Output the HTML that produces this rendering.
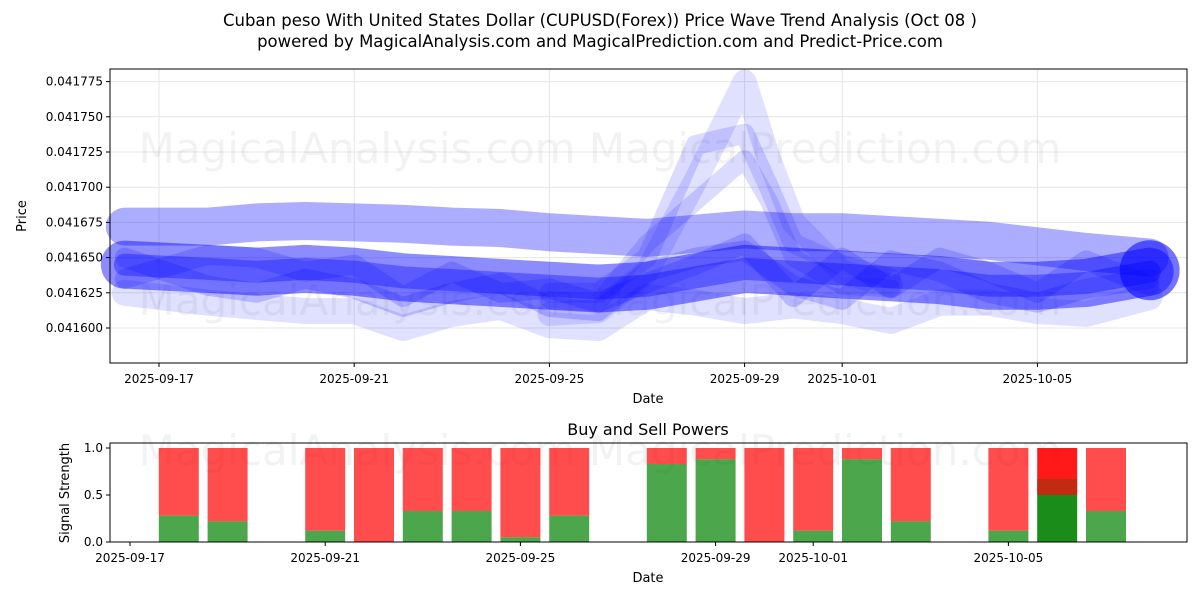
<!DOCTYPE html>
<html><head><meta charset="utf-8"><style>
body{margin:0;background:#fff;font-family:"Liberation Sans","DejaVu Sans",sans-serif}
svg text{font-family:"DejaVu Sans","Liberation Sans",sans-serif}
</style></head><body>
<svg id="c" width="1200" height="600" viewBox="0 0 1200 600"></svg>
<script>
// ---- data ----
const bandDays = [-0.7,1,2,3,4,5,6,7,8,9,10,11,12,13,14,15,16,17,18,19,20.3];
const bandUpper = [0.041672,0.041672,0.041675,0.041676,0.041675,0.041674,0.041672,0.041671,0.041668,0.041666,0.041664,0.041667,0.041670,0.041668,0.041668,0.041666,0.041664,0.041662,0.041658,0.041654,0.041650];
const bandCenter = [0.041645,0.041642,0.041640,0.041642,0.041640,0.041636,0.041634,0.041632,0.041630,0.041628,0.041630,0.041636,0.041642,0.041640,0.041638,0.041636,0.041634,0.041630,0.041630,0.041632,0.041640];
const bandLower = [0.041625,0.041618,0.041615,0.041612,0.041612,0.041600,0.041610,0.041615,0.041602,0.041600,0.041622,0.041618,0.041612,0.041616,0.041612,0.041605,0.041618,0.041618,0.041612,0.041610,0.041622];
const waveA = [0.041650,0.041630,0.041625,0.041635,0.041628,0.041615,0.041625,0.041632,0.041615,0.041612,0.041640,0.041650,0.041655,0.041630,0.041620,0.041648,0.041640,0.041625,0.041618,0.041628,0.041635];
const waveB = [0.041635,0.041652,0.041650,0.041640,0.041645,0.041622,0.041640,0.041625,0.041628,0.041618,0.041632,0.041645,0.041660,0.041622,0.041650,0.041628,0.041650,0.041640,0.041625,0.041648,0.041630];
const spikeDays = [8,9,10,11,12,12.5,13,14,15];
const spikeA = [0.041610,0.041612,0.041640,0.041705,0.041775,0.041720,0.041675,0.041640,0.041630];
const spikeB = [0.041625,0.041625,0.041650,0.041730,0.041738,0.041700,0.041660,0.041645,0.041635];
const spikeC = [0.041620,0.041618,0.041660,0.041690,0.041720,0.041690,0.041650,0.041630,0.041628];
const barDays = [1,2,4,5,6,7,8,9,11,12,13,14,15,16,18,19,20];
const buyVals = [0.28,0.22,0.12,0,0.33,0.33,0.05,0.28,0.83,0.88,0,0.12,0.88,0.22,0.12,0.5,0.33];
const priceTicks = [0.041600,0.041625,0.041650,0.041675,0.041700,0.041725,0.041750,0.041775];
const dateTickDays = [0,4,8,12,14,18];
const dateTickLabels = ["2025-09-17","2025-09-21","2025-09-25","2025-09-29","2025-10-01","2025-10-05"];
const sigTicks = [0,0.5,1];

// ---- scales ----
const svg = document.getElementById('c');
const NS = 'http://www.w3.org/2000/svg';
const X1 = d => 159 + d*48.8;
const Y1 = v => 328 - (v-0.041600)/0.000025*35.2;
const X2 = d => 130 + d*48.8;
const Y2 = v => 542 - v*94;
function el(tag, attrs, parent){const e=document.createElementNS(NS,tag);for(const k in attrs)e.setAttribute(k,attrs[k]);(parent||svg).appendChild(e);return e;}
function txt(s, attrs, parent){const e=el('text',attrs,parent);e.textContent=s;return e;}

let t=txt('Cuban peso With United States Dollar (CUPUSD(Forex)) Price Wave Trend Analysis (Oct 08 )',{x:600,y:26,'text-anchor':'middle','font-size':16.5});


t=txt('powered by MagicalAnalysis.com and MagicalPrediction.com and Predict-Price.com',{x:600,y:47,'text-anchor':'middle','font-size':16.5});



// ---- top panel ----
const g1 = el('g',{});


priceTicks.forEach(v=>{
  const l=el('line',{x1:110,x2:1187,y1:Y1(v),y2:Y1(v),stroke:'#e6e6e6'},g1);
  
  
  el('line',{x1:106,x2:110,y1:Y1(v),y2:Y1(v),stroke:'#000'},g1);
  const tl=txt(v.toFixed(6),{x:103,y:Y1(v)+4,'text-anchor':'end','font-size':12},g1);
  
  
});
dateTickDays.forEach((d,i)=>{
  el('line',{x1:X1(d),x2:X1(d),y1:69,y2:363,stroke:'#e6e6e6'},g1);
  el('line',{x1:X1(d),x2:X1(d),y1:363,y2:367,stroke:'#000'},g1);
  const tl=txt(dateTickLabels[i],{x:X1(d),y:383,'text-anchor':'middle','font-size':12},g1);
  
  
});
let wm=txt('MagicalAnalysis.com    MagicalPrediction.com',{x:600,y:163,'text-anchor':'middle','font-size':42,fill:'#000','fill-opacity':0.05},g1);


wm=txt('MagicalAnalysis.com    MagicalPrediction.com',{x:600,y:315,'text-anchor':'middle','font-size':42,fill:'#000','fill-opacity':0.05},g1);



function band(days, vals, w, op){
  const p=el('polyline',{points:days.map((d,i)=>X1(d)+','+Y1(vals[i])).join(' '),fill:'none',stroke:'#0000ff','stroke-opacity':op,'stroke-width':w,'stroke-linejoin':'round','stroke-linecap':'round'},g1);
  
  
}
band(bandDays,bandLower,26,0.12);
band(spikeDays,spikeA,24,0.12);
band(spikeDays,spikeB,20,0.14);
band(spikeDays,spikeC,18,0.14);
band(bandDays,waveA,20,0.18);
band(bandDays,waveB,20,0.18);
band(bandDays,bandUpper,38,0.32);
band(bandDays,bandCenter,48,0.45);
band(bandDays,bandCenter,22,0.35);
const endC=el('circle',{cx:X1(20.3),cy:Y1(0.041641),r:30,fill:'#0000ff','fill-opacity':0.55},g1);


el('rect',{x:110,y:69,width:1077,height:294,fill:'none',stroke:'#000'},g1);
t=txt('Date',{x:648,y:403,'text-anchor':'middle','font-size':13},g1);


t=txt('Price',{x:26,y:216,'text-anchor':'middle','font-size':13,transform:'rotate(-90 26 216)'},g1);



// ---- bottom panel ----
const g2 = el('g',{});


t=txt('Buy and Sell Powers',{x:648,y:435,'text-anchor':'middle','font-size':16},g2);


wm=txt('MagicalAnalysis.com    MagicalPrediction.com',{x:600,y:465,'text-anchor':'middle','font-size':42,fill:'#000','fill-opacity':0.05},g2);


barDays.forEach((d,i)=>{
  const v=buyVals[i], x=X2(d)-20;
  const special = i===15;
  const r=el('rect',{x:x,y:Y2(1),width:40,height:Y2(v)-Y2(1),fill:'#ff0000','fill-opacity':special?0.9:0.7},g2);
  
  
  if(special){
    const r2=el('rect',{x:x,y:Y2(0.67),width:40,height:Y2(v)-Y2(0.67),fill:'#b03010','fill-opacity':0.8},g2);
    
    
  }
  const b=el('rect',{x:x,y:Y2(v),width:40,height:Y2(0)-Y2(v),fill:'#008000','fill-opacity':special?0.9:0.7},g2);
  
  
});
sigTicks.forEach(v=>{
  el('line',{x1:106,x2:110,y1:Y2(v),y2:Y2(v),stroke:'#000'},g2);
  const tl=txt(v.toFixed(1),{x:103,y:Y2(v)+4,'text-anchor':'end','font-size':12},g2);
  
  
});
dateTickDays.forEach((d,i)=>{
  el('line',{x1:X2(d),x2:X2(d),y1:542,y2:546,stroke:'#000'},g2);
  const tl=txt(dateTickLabels[i],{x:X2(d),y:562,'text-anchor':'middle','font-size':12},g2);
  
  
});
el('rect',{x:110,y:443,width:1077,height:99,fill:'none',stroke:'#000'},g2);
t=txt('Date',{x:648,y:582,'text-anchor':'middle','font-size':13},g2);


t=txt('Signal Strength',{x:69,y:493,'text-anchor':'middle','font-size':13,transform:'rotate(-90 69 493)'},g2);


</script>
</body></html>
